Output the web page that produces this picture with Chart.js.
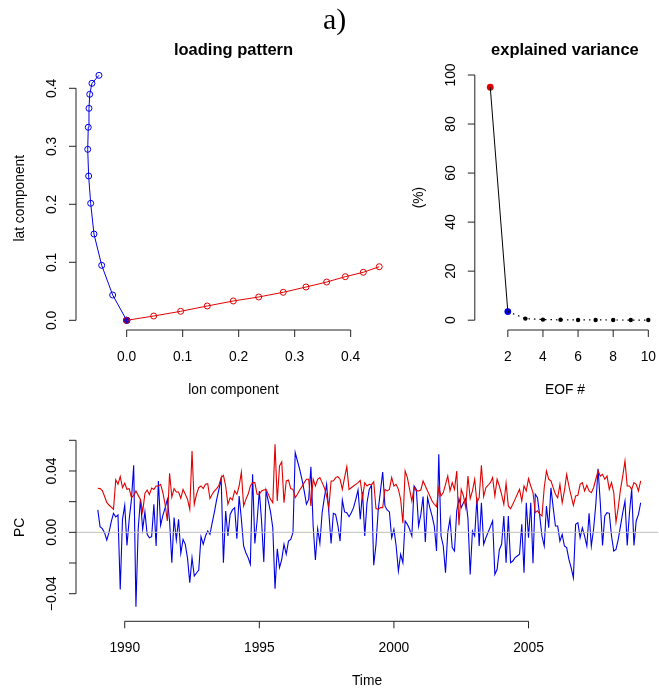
<!DOCTYPE html>
<html>
<head>
<meta charset="utf-8">
<script src="https://cdn.jsdelivr.net/npm/chart.js@4.4.1/dist/chart.umd.min.js"></script>
<style>
html, body { margin: 0; padding: 0; background: #fff; overflow: hidden; }
#wrap { position: relative; width: 659px; height: 688px; }
canvas { position: absolute; left: 0; top: 0; }
</style>
</head>
<body>
<div id="wrap">
  <canvas id="loading" width="659" height="688"></canvas>
  <canvas id="variance" width="659" height="688"></canvas>
  <canvas id="pc" width="659" height="688"></canvas>
</div>
<script>
// ---- data ----
// loading pattern: EOF1 (red) and EOF2 (blue), lon / lat components
const eof1Lon = [0, 0.0482, 0.0964, 0.1439, 0.1904, 0.2357, 0.2796, 0.3202, 0.3571, 0.3904, 0.4225, 0.4510];
const eof1Lat = [0, 0.0074, 0.0155, 0.0247, 0.0333, 0.0402, 0.0483, 0.0574, 0.0660, 0.0752, 0.0828, 0.0924];
const eof2Lon = [0, -0.0250, -0.0446, -0.0584, -0.0643, -0.0679, -0.0696, -0.0686, -0.0673, -0.0660, -0.0620, -0.0495];
const eof2Lat = [0, 0.0436, 0.0948, 0.1488, 0.2017, 0.2488, 0.2948, 0.3328, 0.3655, 0.3897, 0.4086, 0.4224];

// explained variance (%)
const eofNumber = [1, 2, 3, 4, 5, 6, 7, 8, 9, 10];
const explainedVar = [95.0, 3.5, 0.65, 0.25, 0.15, 0.1, 0.1, 0.08, 0.06, 0.05];

// principal components, monthly from Jan 1989
const pcStartYear = 1989;
const pc1 = [
  0.0287, 0.0285, 0.0272, 0.0235, 0.0195, 0.0178, 0.0165, 0.0150, 0.0343, 0.0313,
  0.0363, 0.0291, 0.0320, 0.0280, 0.0285, 0.0226, 0.0241, 0.0270, 0.0241, 0.0215,
  0.0133, 0.0254, 0.0276, 0.0246, 0.0289, 0.0280, 0.0302, 0.0302, 0.0313, 0.0259,
  0.0183, 0.0074, 0.0385, 0.0230, 0.0285, 0.0263, 0.0263, 0.0222, 0.0280, 0.0248,
  0.0215, 0.0150, 0.0530, 0.0183, 0.0248, 0.0291, 0.0302, 0.0285, 0.0313, 0.0317,
  0.0220, 0.0248, 0.0270, 0.0285, 0.0307, 0.0357, 0.0372, 0.0302, 0.0183, 0.0226,
  0.0211, 0.0270, 0.0248, 0.0302, 0.0393, 0.0172, 0.0215, 0.0248, 0.0302, 0.0324,
  0.0324, 0.0248, 0.0248, 0.0270, 0.0276, 0.0280, 0.0248, 0.0215, 0.0193, 0.0574,
  0.0204, 0.0433, 0.0459, 0.0193, 0.0335, 0.0341, 0.0285, 0.0280, 0.0226, 0.0248,
  0.0276, 0.0298, 0.0324, 0.0346, 0.0346, 0.0172, 0.0346, 0.0302, 0.0346, 0.0357,
  0.0324, 0.0291, 0.0237, 0.0161, 0.0335, 0.0335, 0.0357, 0.0363, 0.0346, 0.0280,
  0.0357, 0.0428, 0.0280, 0.0291, 0.0302, 0.0313, 0.0324, 0.0339, 0.0226, 0.0324,
  0.0302, 0.0313, 0.0310, 0.0330, 0.0155, 0.0150, 0.0161, 0.0161, 0.0280, 0.0270,
  0.0280, 0.0357, 0.0302, 0.0313, 0.0280, 0.0215, 0.0059, 0.0400, 0.0357, 0.0280,
  0.0204, 0.0291, 0.0270, 0.0270, 0.0276, 0.0335, 0.0302, 0.0270, 0.0237, 0.0204,
  0.0183, 0.0167, 0.0291, 0.0237, 0.0259, 0.0313, 0.0367, 0.0270, 0.0324, 0.0280,
  0.0400, 0.0046, 0.0280, 0.0237, 0.0161, 0.0367, 0.0220, 0.0270, 0.0346, 0.0193,
  0.0226, 0.0437, 0.0233, 0.0291, 0.0307, 0.0324, 0.0357, 0.0237, 0.0346, 0.0302,
  0.0248, 0.0183, 0.0320, 0.0172, 0.0154, 0.0183, 0.0215, 0.0248, 0.0280, 0.0204,
  0.0302, 0.0270, 0.0350, 0.0302, 0.0259, 0.0128, 0.0141, 0.0119, 0.0107, 0.0291,
  0.0400, 0.0346, 0.0335, 0.0291, 0.0248, 0.0226, 0.0313, 0.0193, 0.0270, 0.0378,
  0.0302, 0.0237, 0.0176, 0.0237, 0.0241, 0.0313, 0.0324, 0.0270, 0.0307, 0.0270,
  0.0259, 0.0291, 0.0346, 0.0400, 0.0367, 0.0378, 0.0346, 0.0367, 0.0280, 0.0324,
  0.0259, 0.0067, 0.0161, 0.0280, 0.0367, 0.0465, 0.0302, 0.0302, 0.0280, 0.0324,
  0.0313, 0.0270, 0.0335
];
const pc2 = [
  0.0146, 0.0037, 0.0024, -0.0002, -0.0050, 0.0000, 0.0070, 0.0124, 0.0100, 0.0113,
  -0.0372, 0.0085, 0.0176, -0.0085, 0.0085, 0.0215, 0.0437, -0.0485, 0.0020, 0.0215,
  0.0020, 0.0133, -0.0013, -0.0035, -0.0028, 0.0183, -0.0089, 0.0335, 0.0046, 0.0110,
  0.0160, 0.0215, 0.0074, -0.0198, 0.0096, -0.0050, 0.0085, -0.0137, -0.0046, -0.0078,
  -0.0170, -0.0328, -0.0165, -0.0285, -0.0265, -0.0246, -0.0028, -0.0078, -0.0024, 0.0009,
  -0.0013, 0.0063, 0.0133, 0.0215, 0.0280, 0.0350, -0.0198, 0.0139, -0.0024, 0.0117,
  0.0146, 0.0161, -0.0041, 0.0237, 0.0085, -0.0089, -0.0133, -0.0165, -0.0209, 0.0378,
  -0.0072, 0.0074, 0.0270, 0.0074, -0.0193, 0.0270, 0.0204, 0.0133, 0.0030, -0.0367,
  -0.0107, -0.0230, -0.0176, -0.0078, -0.0143, -0.0057, -0.0046, -0.0002, 0.0520, 0.0465,
  0.0411, 0.0346, 0.0270, 0.0183, 0.0215, 0.0428, 0.0041, -0.0180, 0.0024, -0.0072,
  0.0128, 0.0226, 0.0313, 0.0128, -0.0072, 0.0124, 0.0117, 0.0046, -0.0057, 0.0210,
  0.0133, 0.0128, 0.0102, 0.0128, 0.0161, 0.0215, 0.0276, 0.0085, 0.0263, -0.0024,
  0.0193, 0.0280, 0.0307, -0.0215, -0.0080, 0.0146, 0.0270, 0.0393, 0.0172, 0.0146,
  0.0133, -0.0035, 0.0020, -0.0089, -0.0252, -0.0143, -0.0198, 0.0074, 0.0052, 0.0020,
  -0.0024, 0.0302, 0.0280, 0.0041, 0.0117, 0.0233, -0.0063, 0.0226, 0.0161, 0.0107,
  0.0041, -0.0122, 0.0509, -0.0024, -0.0089, -0.0263, -0.0002, 0.0089, -0.0100, -0.0122,
  0.0141, 0.0220, 0.0161, 0.0193, 0.0220, 0.0090, -0.0274, 0.0009, -0.0024, 0.0226,
  -0.0089, 0.0193, -0.0078, -0.0035, 0.0000, 0.0037, 0.0074, -0.0274, -0.0241, -0.0113,
  -0.0078, 0.0107, -0.0198, 0.0107, -0.0198, -0.0187, -0.0165, -0.0154, -0.0143, 0.0052,
  -0.0263, 0.0193, -0.0035, 0.0193, -0.0202, 0.0248, 0.0226, 0.0107, -0.0024, -0.0089,
  0.0172, 0.0030, 0.0291, 0.0161, 0.0041, 0.0041, -0.0057, -0.0013, -0.0089, -0.0100,
  -0.0176, -0.0230, -0.0296, 0.0052, 0.0063, -0.0035, 0.0030, -0.0024, -0.0089, 0.0124,
  -0.0089, 0.0020, 0.0183, 0.0415, 0.0193, -0.0085, 0.0107, 0.0128, 0.0124, -0.0024,
  -0.0122, -0.0111, -0.0046, 0.0041, 0.0128, 0.0204, -0.0085, 0.0128, 0.0280, -0.0085,
  0.0074, 0.0117, 0.0193
];

// tick values / labels
const loadXTicks = [0, 0.1, 0.2, 0.3, 0.4];
const loadXLabels = ['0.0', '0.1', '0.2', '0.3', '0.4'];
const loadYTicks = [0, 0.1, 0.2, 0.3, 0.4];
const loadYLabels = ['0.0', '0.1', '0.2', '0.3', '0.4'];
const varXTicks = [2, 4, 6, 8, 10];
const varXLabels = ['2', '4', '6', '8', '10'];
const varYTicks = [0, 20, 40, 60, 80, 100];
const varYLabels = ['0', '20', '40', '60', '80', '100'];
const pcXTicks = [1990, 1995, 2000, 2005];
const pcXLabels = ['1990', '1995', '2000', '2005'];
const pcYTicks = [-0.04, -0.02, 0, 0.02, 0.04, 0.06];
const pcYLabels = ['\u22120.04', '', '0.00', '', '0.04', ''];

// ---- drawing ----
const W = 659, H = 688;
const FONT = '"Liberation Sans", Arimo, Helvetica, Arial, sans-serif';
const TICK_FONT = '13.8px ' + FONT;
const RED = '#e00000';
const BLUE = '#0000e6';

const panelSpecs = {
  loading: {
    main: 'loading pattern', xTitle: 'lon component', yTitle: 'lat component',
    xTicks: loadXTicks, xLabels: loadXLabels, yTicks: loadYTicks, yLabels: loadYLabels
  },
  variance: {
    main: 'explained variance', xTitle: 'EOF #', yTitle: '(%)',
    xTicks: varXTicks, xLabels: varXLabels, yTicks: varYTicks, yLabels: varYLabels
  },
  pc: {
    main: '', xTitle: 'Time', yTitle: 'PC',
    xTicks: pcXTicks, xLabels: pcXLabels, yTicks: pcYTicks, yLabels: pcYLabels
  }
};

function rotatedText(ctx, text, x, y) {
  ctx.save();
  ctx.translate(x, y);
  ctx.rotate(-Math.PI / 2);
  ctx.fillText(text, 0, 0);
  ctx.restore();
}

const rAxes = {
  id: 'rAxes',
  afterDraw(chart) {
    const spec = panelSpecs[chart.canvas.id];
    const ctx = chart.ctx;
    const area = chart.chartArea;
    const sx = chart.scales.x, sy = chart.scales.y;
    ctx.save();
    ctx.strokeStyle = '#222';
    ctx.fillStyle = '#000';
    ctx.lineWidth = 1;

    // bottom axis
    const xs = spec.xTicks.map(v => sx.getPixelForValue(v));
    const yb = area.bottom;
    ctx.beginPath();
    ctx.moveTo(xs[0], yb);
    ctx.lineTo(xs[xs.length - 1], yb);
    xs.forEach(px => { ctx.moveTo(px, yb); ctx.lineTo(px, yb + 7); });
    ctx.stroke();
    ctx.font = TICK_FONT;
    ctx.textAlign = 'center';
    ctx.textBaseline = 'alphabetic';
    spec.xLabels.forEach((t, i) => { if (t) ctx.fillText(t, xs[i], yb + 30.5); });
    ctx.fillText(spec.xTitle, (area.left + area.right) / 2, yb + 63.5);

    // left axis
    const ys = spec.yTicks.map(v => sy.getPixelForValue(v));
    const xl = area.left;
    ctx.beginPath();
    ctx.moveTo(xl, ys[0]);
    ctx.lineTo(xl, ys[ys.length - 1]);
    ys.forEach(py => { ctx.moveTo(xl, py); ctx.lineTo(xl - 7, py); });
    ctx.stroke();
    spec.yLabels.forEach((t, i) => { if (t) rotatedText(ctx, t, xl - 20, ys[i]); });
    rotatedText(ctx, spec.yTitle, xl - 52, (area.top + area.bottom) / 2);

    if (spec.main) {
      ctx.font = 'bold 16.5px ' + FONT;
      ctx.fillText(spec.main, (area.left + area.right) / 2, 55);
    }
    if (chart.canvas.id === 'loading') {
      ctx.font = '30px "Liberation Serif", "Times New Roman", serif';
      ctx.fillText('a)', 334.7, 29.3);
    }
    ctx.restore();
  }
};

function makePanel(id, box, xRange, yRange, datasets) {
  return new Chart(document.getElementById(id), {
    type: 'line',
    data: { datasets: datasets },
    options: {
      responsive: false,
      animation: false,
      events: [],
      layout: { padding: { left: box.left, top: box.top, right: W - box.right, bottom: H - box.bottom } },
      scales: {
        x: { type: 'linear', display: false, min: xRange[0], max: xRange[1] },
        y: { type: 'linear', display: false, min: yRange[0], max: yRange[1] }
      },
      elements: { line: { tension: 0 } },
      plugins: { legend: { display: false }, tooltip: { enabled: false } }
    },
    plugins: [rAxes]
  });
}

const toXY = (xs, ys) => xs.map((x, i) => ({ x: x, y: ys[i] }));

// loading pattern
makePanel('loading', { left: 76, top: 66.5, right: 391, bottom: 330 }, [-0.0905, 0.472], [-0.0167, 0.4376], [
  {
    data: toXY(eof1Lon, eof1Lat), borderColor: RED, borderWidth: 1,
    pointRadius: 3, pointBorderWidth: 1, pointBorderColor: RED, pointBackgroundColor: 'rgba(0,0,0,0)'
  },
  {
    data: toXY(eof2Lon, eof2Lat), borderColor: BLUE, borderWidth: 1,
    pointRadius: 3, pointBorderWidth: 1, pointBorderColor: BLUE, pointBackgroundColor: 'rgba(0,0,0,0)'
  },
  {
    data: toXY(eof2Lon.slice(0, 1), eof2Lat.slice(0, 1)), showLine: false,
    pointRadius: 3.6, pointBorderWidth: 0, pointBackgroundColor: BLUE
  }
]);

// explained variance
const varPointColors = eofNumber.map((n, i) => i === 0 ? RED : (i === 1 ? BLUE : '#000'));
const varPointSizes = eofNumber.map((n, i) => i < 2 ? 3.4 : 2.2);
makePanel('variance', { left: 474.8, top: 65.2, right: 657.7, bottom: 330 }, [0.12, 10.38], [-4, 104], [
  {
    data: toXY(eofNumber.slice(0, 2), explainedVar.slice(0, 2)), borderColor: '#000', borderWidth: 1, pointRadius: 0
  },
  {
    data: toXY(eofNumber.slice(1), explainedVar.slice(1)), borderColor: '#000', borderWidth: 1.2,
    borderDash: [1.5, 4], pointRadius: 0
  },
  {
    data: toXY(eofNumber, explainedVar), showLine: false,
    pointRadius: varPointSizes, pointBorderWidth: 0, pointBackgroundColor: varPointColors
  }
]);

// principal components
const pcTime = pc1.map((v, i) => pcStartYear + i / 12);
const pcXRange = [1988.19, 2009.81];
makePanel('pc', { left: 76, top: 433.4, right: 658, bottom: 621.3 }, pcXRange, [-0.058, 0.0645], [
  {
    data: toXY(pcXRange, [0, 0]), borderColor: '#bebebe', borderWidth: 1, pointRadius: 0
  },
  {
    data: toXY(pcTime, pc1), borderColor: RED, borderWidth: 1.1, pointRadius: 0
  },
  {
    data: toXY(pcTime, pc2), borderColor: BLUE, borderWidth: 1.1, pointRadius: 0
  }
]);
</script>
</body>
</html>
